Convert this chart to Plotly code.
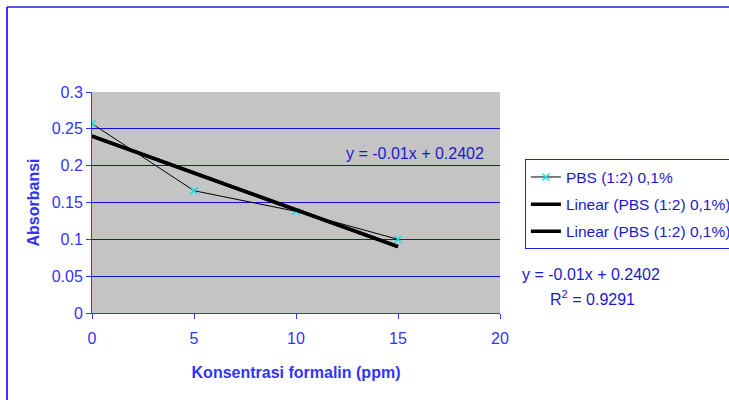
import numpy as np
import plotly.graph_objects as go

# Absorbance of PBS (1:2) 0,1% vs formalin concentration
konsentrasi = [0, 5, 10, 15]
absorbansi = [0.257, 0.166, 0.138, 0.100]

# Linear trendline as stated in the equation label
slope = -0.01
intercept = 0.2402
r_squared = 0.9291

x_ticks = [0, 5, 10, 15, 20]
y_ticks = [0, 0.05, 0.1, 0.15, 0.2, 0.25, 0.3]
y_tick_text = ["0", "0.05", "0.1", "0.15", "0.2", "0.25", "0.3"]

series_name = "PBS (1:2) 0,1%"
trend_name = "Linear (PBS (1:2) 0,1%)"

BLUE = "#3333ff"
DARK_BLUE = "#1a1acc"
FONT = "Liberation Sans, Arial, sans-serif"
FS = 16

trend_x = np.array([konsentrasi[0], konsentrasi[-1]], dtype=float)
trend_y = slope * trend_x + intercept

fig = go.Figure()
fig.add_trace(go.Scatter(
    x=konsentrasi, y=absorbansi, mode="lines+markers", name=series_name,
    line=dict(color="black", width=1),
    marker=dict(symbol="x-thin", size=7, line=dict(color="#00e5e5", width=1.5)),
    legendgroup="a",
))
for grp in ["b", "c"]:
    fig.add_trace(go.Scatter(
        x=trend_x, y=trend_y, mode="lines", name=trend_name,
        line=dict(color="black", width=3.5), legendgroup=grp,
    ))

eq_text = f"y = {slope:g}x + {intercept:.4f}"
fig.add_annotation(x=15.83, y=0.217, xref="x", yref="y", text=eq_text,
                   showarrow=False, font=dict(color=DARK_BLUE, size=FS, family=FONT))
fig.add_annotation(x=1.049, y=0.172, xref="paper", yref="paper", text=eq_text,
                   showarrow=False, xanchor="left", yanchor="middle",
                   font=dict(color=DARK_BLUE, size=FS, family=FONT))
fig.add_annotation(x=1.1176, y=0.068, xref="paper", yref="paper",
                   text=f"R<sup>2</sup> = {r_squared}", showarrow=False,
                   xanchor="left", yanchor="middle",
                   font=dict(color=DARK_BLUE, size=FS, family=FONT))

# chart frame (left and top edges)
fig.add_shape(type="line", xref="paper", yref="paper", x0=-0.2083, x1=-0.2083,
              y0=-0.5, y1=1.3846, line=dict(color=BLUE, width=2))
fig.add_shape(type="line", xref="paper", yref="paper", x0=-0.2083, x1=1.7,
              y0=1.3846, y1=1.3846, line=dict(color="#2222dd", width=1.5))

axis_common = dict(
    showline=True, linecolor=BLUE, linewidth=1, ticks="outside", ticklen=5,
    tickcolor=BLUE, tickfont=dict(color=BLUE, size=FS, family=FONT),
    zeroline=False,
)
fig.update_xaxes(range=[0, 20], tickvals=x_ticks, showgrid=False,
                 ticklabelstandoff=6,
                 title=dict(text="<b>Konsentrasi formalin (ppm)</b>",
                            font=dict(color=BLUE, size=FS, family=FONT), standoff=20),
                 **axis_common)
fig.update_yaxes(range=[0, 0.3], tickvals=y_ticks, ticktext=y_tick_text,
                 showgrid=True, gridcolor="#1010dd", gridwidth=1,
                 title=dict(text="<b>Absorbansi</b>",
                            font=dict(color=BLUE, size=FS, family=FONT), standoff=8),
                 **axis_common)

fig.update_layout(
    width=729, height=400,
    margin=dict(l=92, r=229, t=92, b=87, autoexpand=False),
    paper_bgcolor="white", plot_bgcolor="#c4c4c4",
    legend=dict(x=1.061, y=0.695, xanchor="left", yanchor="top",
                bgcolor="rgba(0,0,0,0)", bordercolor="#2222dd", borderwidth=1,
                font=dict(color=DARK_BLUE, size=15.5, family=FONT),
                itemwidth=30, tracegroupgap=4),
    showlegend=True,
)

fig.write_html("out.html")
